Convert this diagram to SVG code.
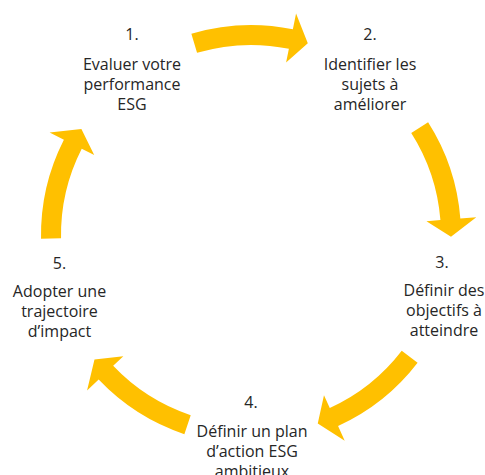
<svg xmlns="http://www.w3.org/2000/svg" xmlns:xlink="http://www.w3.org/1999/xlink" width="485" height="475" viewBox="0 0 485 475">
<style>
  .lbl { font-family: "Open Sans", "Noto Sans", "Liberation Sans", sans-serif; font-size: 16px; fill: #262626; text-anchor: middle; }
  .arrow { fill: #FFC000; }
</style>
<defs>
  <path id="arc" class="arrow" d="M 191.36 33.65 A 210 210 0 0 1 292.87 29.22 L 296.06 13.54 L 307.8 43.24 L 286.09 62.54 L 288.89 48.82 A 190 190 0 0 0 197.04 52.83 Z"/>
</defs>
<rect width="485" height="475" fill="#ffffff"/>
<g id="connectors">
  <use xlink:href="#arc" href="#arc"/>
  <use xlink:href="#arc" href="#arc" transform="rotate(74 251 235)"/>
  <use xlink:href="#arc" href="#arc" transform="rotate(144 251 235)"/>
  <use xlink:href="#arc" href="#arc" transform="rotate(215 251 235)"/>
  <use xlink:href="#arc" href="#arc" transform="rotate(285.5 251 235)"/>
</g>
<g id="node1">
  <text class="lbl" x="132" y="40">1.</text>
  <text class="lbl" x="132" y="70">Evaluer votre</text>
  <text class="lbl" x="132" y="90">performance</text>
  <text class="lbl" x="132" y="110">ESG</text>
</g>
<g id="node2">
  <text class="lbl" x="370" y="40">2.</text>
  <text class="lbl" x="370" y="69.5">Identifier les</text>
  <text class="lbl" x="370" y="89.5">sujets à</text>
  <text class="lbl" x="370" y="109.5">améliorer</text>
</g>
<g id="node3">
  <text class="lbl" x="442" y="267.5">3.</text>
  <text class="lbl" x="444" y="296">Définir des</text>
  <text class="lbl" x="444" y="316">objectifs à</text>
  <text class="lbl" x="444" y="336">atteindre</text>
</g>
<g id="node4">
  <text class="lbl" x="251" y="408">4.</text>
  <text class="lbl" x="252" y="437">Définir un plan</text>
  <text class="lbl" x="252" y="457">d’action ESG</text>
  <text class="lbl" x="252" y="477">ambitieux</text>
</g>
<g id="node5">
  <text class="lbl" x="59.5" y="269">5.</text>
  <text class="lbl" x="59.5" y="297">Adopter une</text>
  <text class="lbl" x="59.5" y="317">trajectoire</text>
  <text class="lbl" x="59.5" y="337">d’impact</text>
</g>
</svg>
